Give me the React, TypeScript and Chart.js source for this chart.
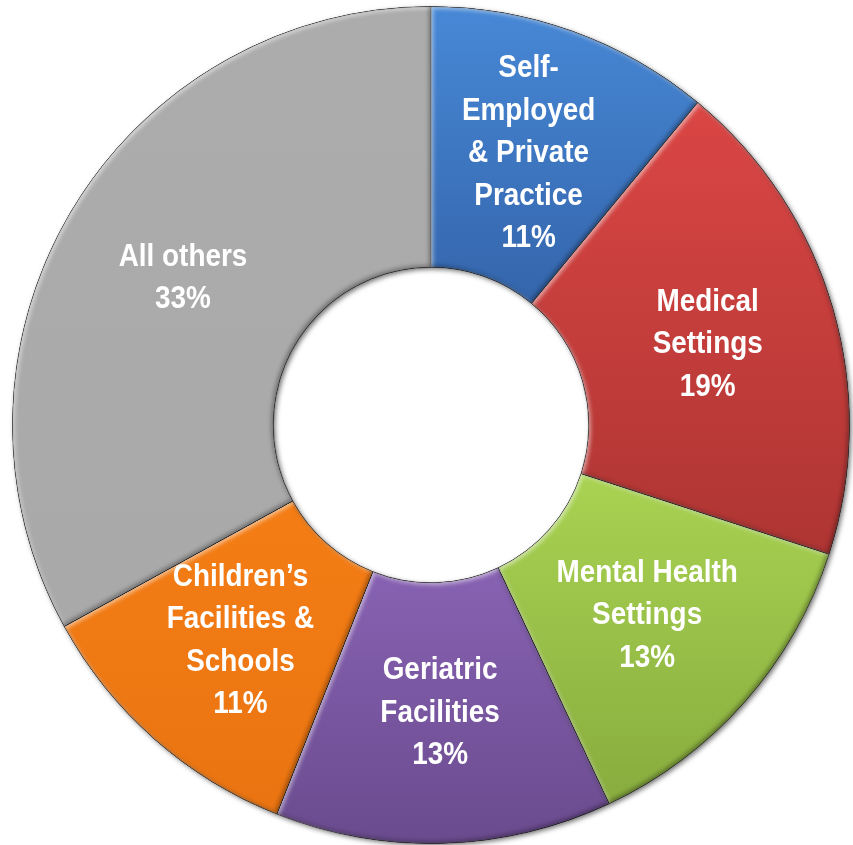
import React, { useEffect, useRef } from "react";
import { Chart, registerables } from "chart.js";

Chart.register(...registerables);

// ---- data ----
const categoryLines: string[][] = [
  ["Self-", "Employed", "& Private", "Practice"],
  ["Medical", "Settings"],
  ["Mental Health", "Settings"],
  ["Geriatric", "Facilities"],
  ["Children\u2019s", "Facilities &", "Schools"],
  ["All others"],
];
const categories = [
  "Self-Employed & Private Practice",
  "Medical Settings",
  "Mental Health Settings",
  "Geriatric Facilities",
  "Children\u2019s Facilities & Schools",
  "All others",
];
const shares = [11, 19, 13, 13, 11, 33];

// ---- styles ----
const baseColors = ["#3D78C2", "#C83E3C", "#9BC248", "#7857A2", "#F07913", "#ABABAB"];
const topColors = ["#4788D6", "#DA4644", "#A9D352", "#8862B3", "#F47D15", "#ACACAC"];
const bottomColors = ["#3465AB", "#AE3533", "#88AC3E", "#6A4B8E", "#EA7411", "#A9A9A9"];
const CUTOUT = 0.377;

function segmentFill(ctx: any) {
  const chart = ctx.chart;
  const area = chart.chartArea;
  const i = ctx.dataIndex;
  if (!area || i === undefined) return baseColors[i ?? 0];
  const cy = (area.top + area.bottom) / 2;
  const outer = (Math.min(area.width, area.height) - 1) / 2;
  const inner = outer * CUTOUT;
  const total = shares.reduce((a, b) => a + b, 0);
  let before = 0;
  for (let k = 0; k < i; k++) before += shares[k];
  const start = -Math.PI / 2 + (2 * Math.PI * before) / total;
  const end = start + (2 * Math.PI * shares[i]) / total;
  let minY = Infinity;
  let maxY = -Infinity;
  const steps = 60;
  for (let s = 0; s <= steps; s++) {
    const a = start + ((end - start) * s) / steps;
    for (const r of [inner, outer]) {
      const y = cy + r * Math.sin(a);
      minY = Math.min(minY, y);
      maxY = Math.max(maxY, y);
    }
  }
  const g = chart.ctx.createLinearGradient(0, minY, 0, maxY);
  g.addColorStop(0, topColors[i]);
  g.addColorStop(1, bottomColors[i]);
  return g;
}

function addArcPath(c: CanvasRenderingContext2D, el: any) {
  const { x, y, startAngle, endAngle, innerRadius, outerRadius } = el;
  c.moveTo(x + outerRadius * Math.cos(startAngle), y + outerRadius * Math.sin(startAngle));
  c.arc(x, y, outerRadius, startAngle, endAngle);
  c.arc(x, y, innerRadius, endAngle, startAngle, true);
  c.closePath();
}

const shadowPlugin = {
  id: "ringShadow",
  beforeDatasetsDraw(chart: any) {
    const meta = chart.getDatasetMeta(0);
    const el = meta.data[0];
    if (!el) return;
    const c = chart.ctx as CanvasRenderingContext2D;
    c.save();
    c.beginPath();
    c.arc(el.x, el.y, el.outerRadius, 0, Math.PI * 2);
    c.closePath();
    c.moveTo(el.x + el.innerRadius, el.y);
    c.arc(el.x, el.y, el.innerRadius, Math.PI * 2, 0, true);
    c.closePath();
    c.shadowColor = "rgba(0,0,0,0.55)";
    c.shadowBlur = 5;
    c.shadowOffsetX = 2;
    c.shadowOffsetY = 2;
    c.fillStyle = "#888";
    c.fill("evenodd");
    c.restore();
  },
};

const bevelPlugin = {
  id: "bevel",
  afterDatasetsDraw(chart: any) {
    const meta = chart.getDatasetMeta(0);
    const c = chart.ctx as CanvasRenderingContext2D;
    meta.data.forEach((el: any) => {
      const passes = [
        { color: "rgba(255,255,255,0.55)", dx: 2, dy: 2 },
        { color: "rgba(0,0,0,0.35)", dx: -2, dy: -2 },
      ];
      passes.forEach((p) => {
        c.save();
        c.beginPath();
        addArcPath(c, el);
        c.clip();
        c.beginPath();
        c.rect(-2000, -2000, 5000, 5000);
        addArcPath(c, el);
        c.shadowColor = p.color;
        c.shadowBlur = 4;
        c.shadowOffsetX = p.dx;
        c.shadowOffsetY = p.dy;
        c.fillStyle = "#000";
        c.fill("evenodd");
        c.restore();
      });
    });
  },
};

const labelPlugin = {
  id: "segLabels",
  afterDatasetsDraw(chart: any) {
    const meta = chart.getDatasetMeta(0);
    const c = chart.ctx as CanvasRenderingContext2D;
    meta.data.forEach((el: any, i: number) => {
      const mid = (el.startAngle + el.endAngle) / 2;
      const r = (el.innerRadius + el.outerRadius) / 2;
      const px = el.x + r * Math.cos(mid);
      const py = el.y + r * Math.sin(mid);
      const lines = [...categoryLines[i], `${shares[i]}%`];
      const lh = 42.5;
      const y0 = py - ((lines.length - 1) * lh) / 2;
      c.save();
      c.font = 'bold 31px "Liberation Sans", Arial, sans-serif';
      c.fillStyle = "#ffffff";
      c.textAlign = "center";
      c.textBaseline = "middle";
      lines.forEach((t, k) => {
        c.save();
        c.translate(px, y0 + k * lh);
        c.scale(0.9, 1);
        c.fillText(t, 0, 0);
        c.restore();
      });
      c.restore();
    });
  },
};

export default function App() {
  const ref = useRef<HTMLCanvasElement | null>(null);
  useEffect(() => {
    if (!ref.current) return;
    const chart = new Chart(ref.current, {
      type: "doughnut",
      data: {
        labels: categories,
        datasets: [
          {
            data: shares,
            backgroundColor: segmentFill as any,
            borderColor: "rgba(70,70,70,0.55)",
            borderWidth: 1,
            hoverBorderWidth: 1,
          },
        ],
      },
      options: {
        animation: false,
        responsive: true,
        maintainAspectRatio: false,
        cutout: `${CUTOUT * 100}%`,
        layout: { padding: { left: 12, right: 3, top: 6, bottom: 1 } },
        plugins: {
          legend: { display: false },
          tooltip: { enabled: false },
        },
        events: [],
      },
      plugins: [shadowPlugin, bevelPlugin, labelPlugin],
    });
    return () => chart.destroy();
  }, []);
  return (
    <div style={{ position: "absolute", left: 0, top: 0, width: 853, height: 845, background: "#fff" }}>
      <canvas ref={ref} />
    </div>
  );
}
